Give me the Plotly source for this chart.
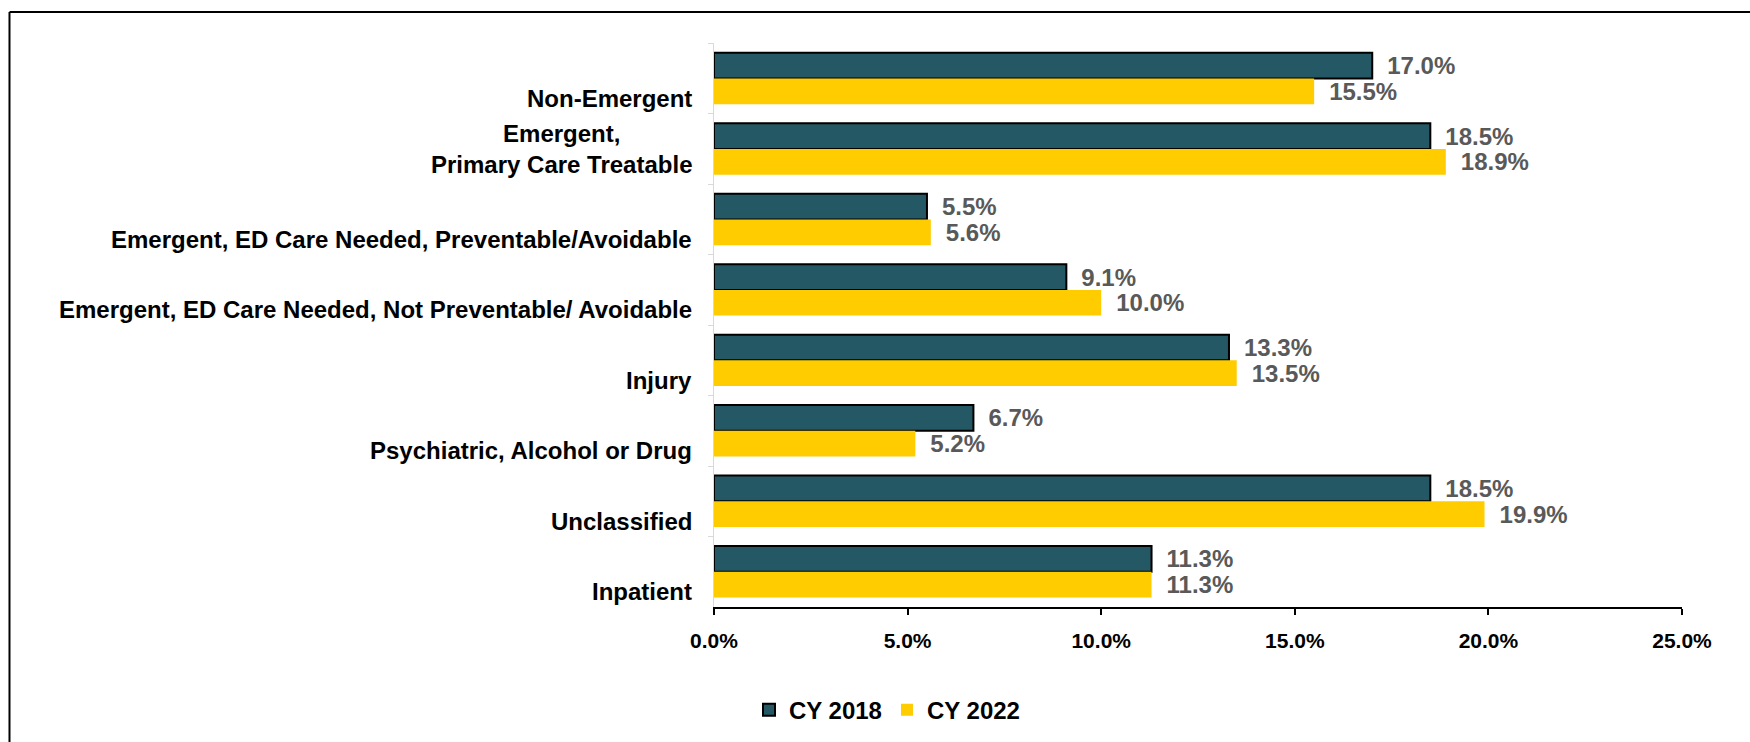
import plotly.graph_objects as go

# ED visit classification shares, CY 2018 vs CY 2022
categories = [
    "Non-Emergent",
    "Emergent,<br>Primary Care Treatable",
    "Emergent, ED Care Needed, Preventable/Avoidable",
    "Emergent, ED Care Needed, Not Preventable/ Avoidable",
    "Injury",
    "Psychiatric, Alcohol or Drug",
    "Unclassified",
    "Inpatient",
]
cy2018 = [17.0, 18.5, 5.5, 9.1, 13.3, 6.7, 18.5, 11.3]
cy2022 = [15.5, 18.9, 5.6, 10.0, 13.5, 5.2, 19.9, 11.3]
x_ticks = [0, 5, 10, 15, 20, 25]
x_tick_labels = ["0.0%", "5.0%", "10.0%", "15.0%", "20.0%", "25.0%"]

FONT = "Arial, Liberation Sans, sans-serif"
TEAL = "#245864"
GOLD = "#FFCC00"
LABEL_GRAY = "#595959"

fig = go.Figure()
fig.add_trace(go.Bar(
    name="CY 2018", y=categories, x=cy2018, orientation="h",
    marker=dict(color=TEAL, line=dict(color="black", width=2)),
    texttemplate="\u2002%{x:.1f}%", textposition="outside",
    textfont=dict(family=FONT, size=24, color=LABEL_GRAY, weight="bold"),
    cliponaxis=False, constraintext="none",
))
fig.add_trace(go.Bar(
    name="CY 2022", y=categories, x=cy2022, orientation="h",
    marker=dict(color=GOLD, line=dict(width=0)),
    texttemplate="\u2002%{x:.1f}%", textposition="outside",
    textfont=dict(family=FONT, size=24, color=LABEL_GRAY, weight="bold"),
    cliponaxis=False, constraintext="none",
))

# Category labels sit slightly below the group centre; two-line labels stay centred
annotations = []
for cat in categories:
    annotations.append(dict(
        text=cat, xref="paper", x=0, xanchor="right", xshift=-20,
        yref="y", y=cat, yanchor="middle",
        yshift=0 if "<br>" in cat else -20,
        showarrow=False, align="center",
        font=dict(family=FONT, size=24, color="black", weight="bold"),
    ))

fig.update_layout(
    width=1750, height=742,
    margin=dict(l=714, r=68, t=43, b=135),
    paper_bgcolor="white", plot_bgcolor="white",
    barmode="group", bargap=0.27, bargroupgap=0,
    font=dict(family=FONT, color="black"),
    showlegend=True,
    legend=dict(
        orientation="h", xref="container", yref="container",
        x=0.428, xanchor="left", y=0.043, yanchor="middle",
        font=dict(family=FONT, size=24, color="black", weight="bold"),
        traceorder="normal", itemclick=False,
    ),
    annotations=annotations,
    shapes=[
        # frame around the chart (top and left edges)
        dict(type="line", xref="paper", yref="paper",
             x0=-0.7278, x1=1.2, y0=1.055, y1=1.055,
             line=dict(color="black", width=2)),
        dict(type="line", xref="paper", yref="paper",
             x0=-0.7278, x1=-0.7278, y0=-0.5, y1=1.055,
             line=dict(color="black", width=2)),
    ],
)

fig.update_xaxes(
    range=[0, 25], tickvals=x_ticks, ticktext=x_tick_labels,
    showgrid=False, zeroline=False,
    showline=True, linecolor="black", linewidth=2,
    ticks="outside", ticklen=6, tickwidth=2, tickcolor="black",
    ticklabelstandoff=8,
    tickfont=dict(family=FONT, size=21, color="black", weight="bold"),
)
fig.update_yaxes(
    categoryorder="array", categoryarray=categories, autorange="reversed",
    showticklabels=False, showgrid=False, zeroline=False,
    showline=True, linecolor="#D9D9D9", linewidth=1,
    ticks="outside", tickson="boundaries", ticklen=5, tickcolor="#D9D9D9",
)

fig.write_html("out.html")
